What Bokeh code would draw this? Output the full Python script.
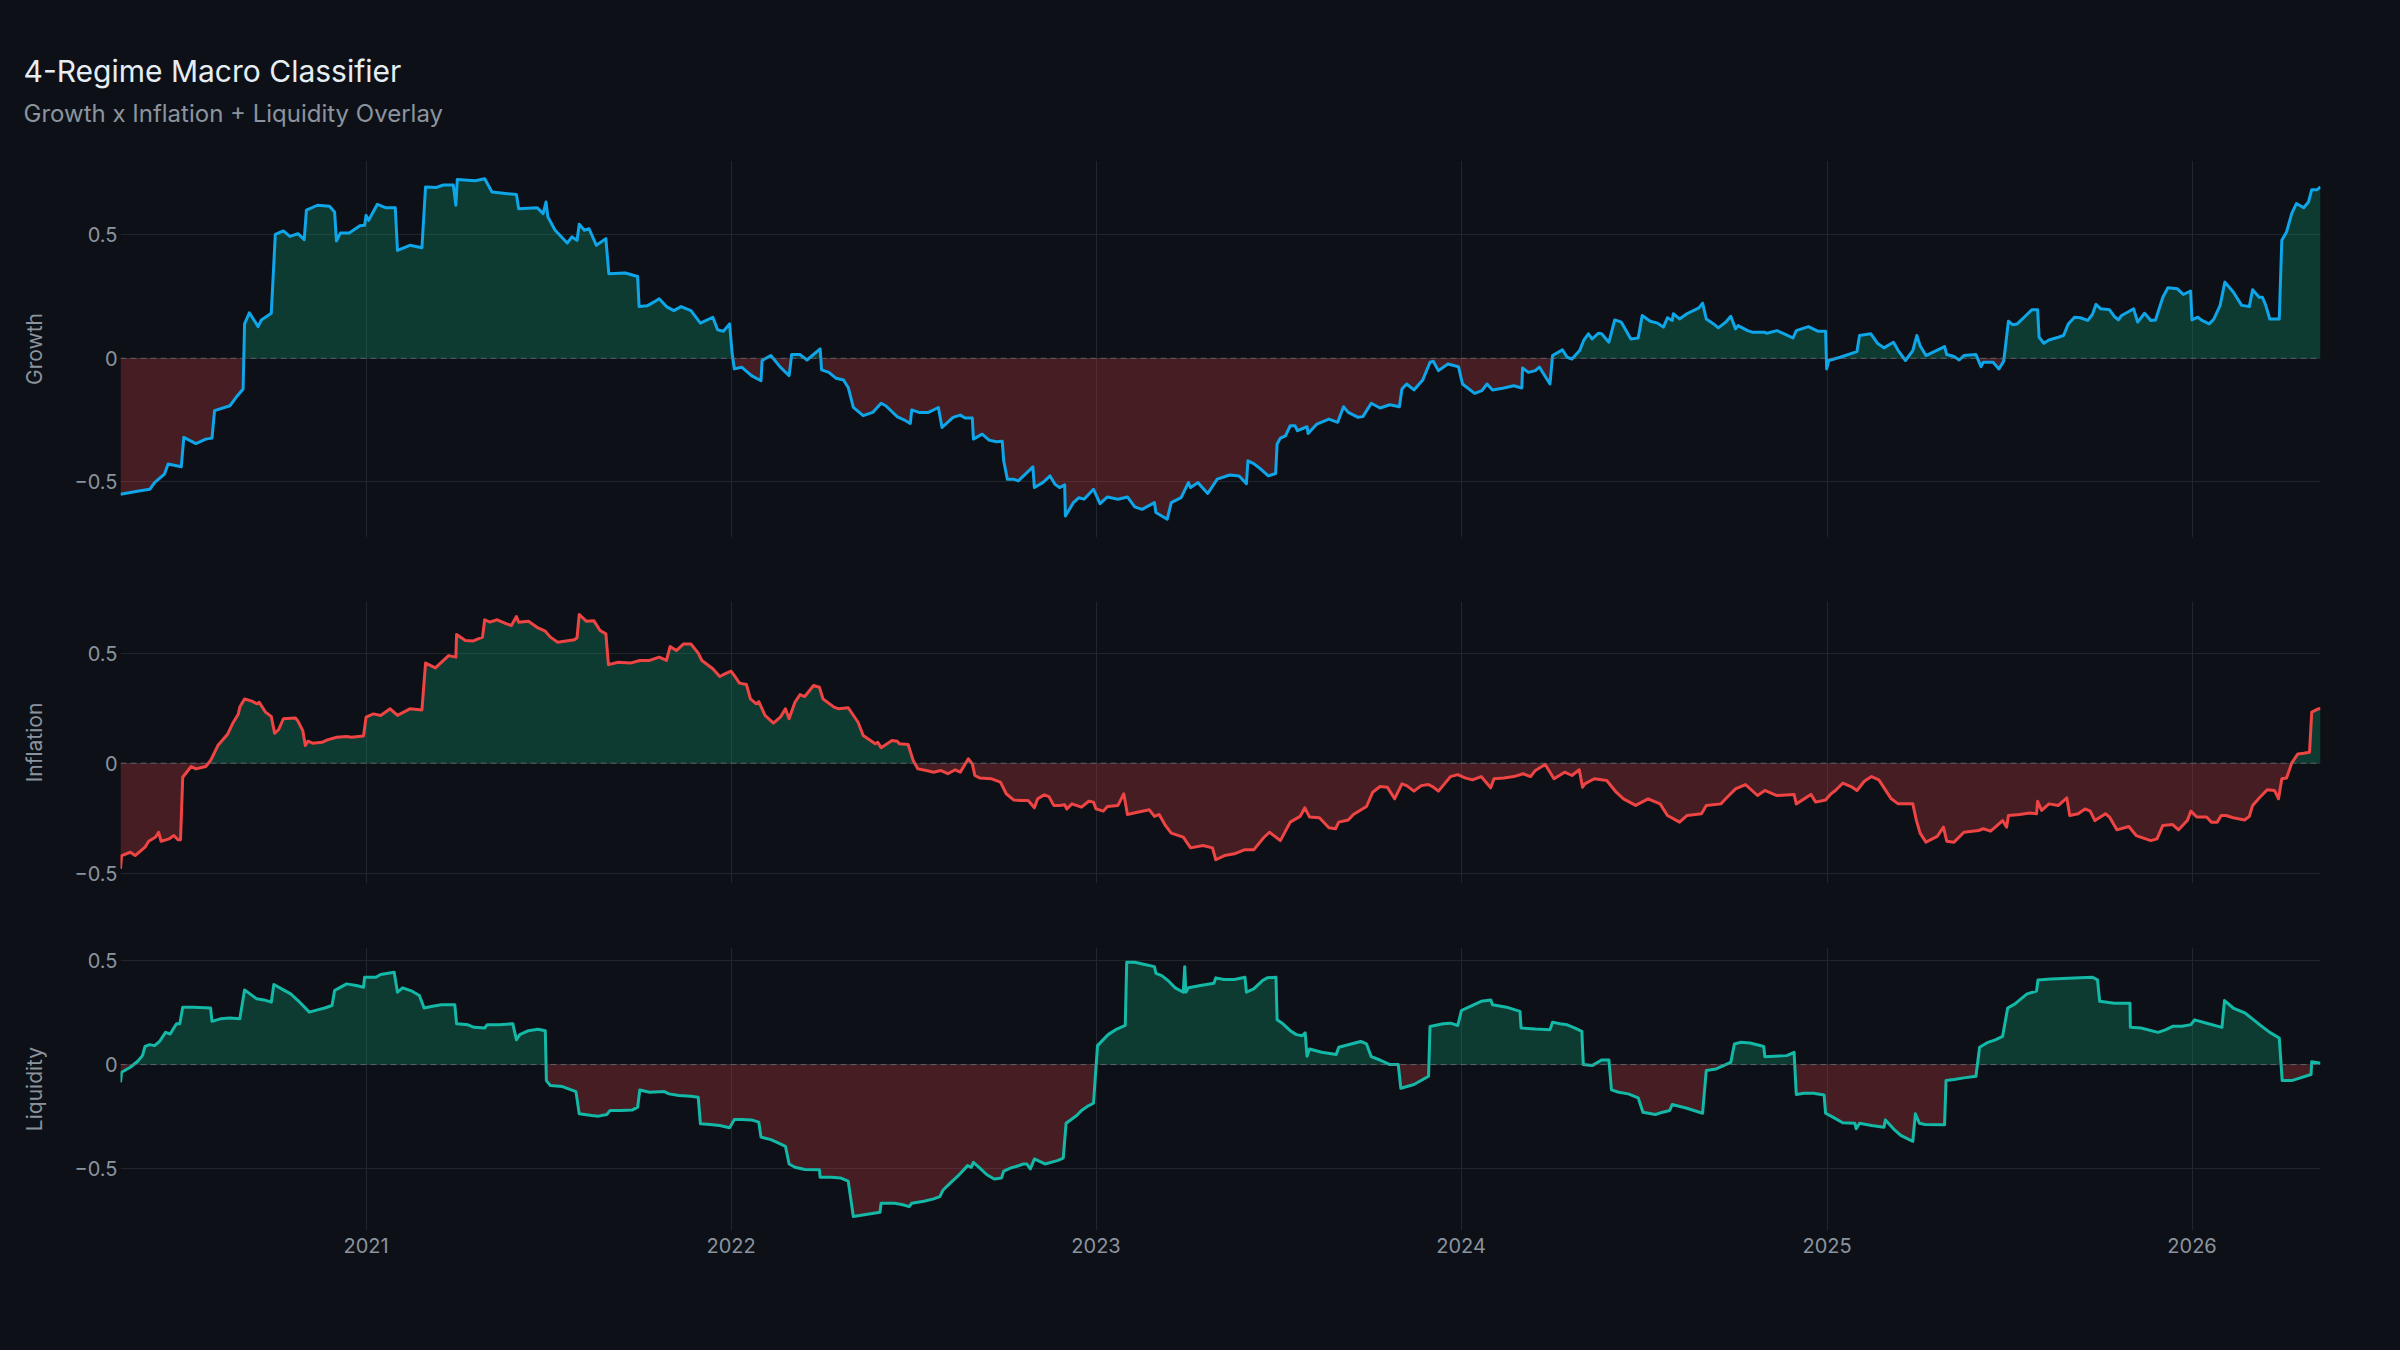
from datetime import datetime

import numpy as np
from bokeh.core.properties import value
from bokeh.embed import file_html
from bokeh.layouts import column
from bokeh.models import DatetimeTickFormatter, FixedTicker, Range1d, Span
from bokeh.plotting import figure
from bokeh.resources import INLINE

TITLE = "4-Regime Macro Classifier"
SUBTITLE = "Growth x Inflation + Liquidity Overlay"
TICK_YEARS = [2021, 2022, 2023, 2024, 2025, 2026]
Y_TICKS = [-0.5, 0.0, 0.5]
Y_LABELS = {-0.5: "\u22120.5", 0.0: "0", 0.5: "0.5"}

# dates as decimal years
growth_t = [
    2020.329, 2020.383, 2020.409, 2020.422, 2020.449, 2020.459, 2020.495, 2020.502, 2020.535, 2020.562,
    2020.579, 2020.586, 2020.628, 2020.645, 2020.664, 2020.668, 2020.681, 2020.705, 2020.714, 2020.741,
    2020.752, 2020.774, 2020.792, 2020.814, 2020.831, 2020.837, 2020.867, 2020.900, 2020.914, 2020.919,
    2020.930, 2020.954, 2020.983, 2020.996, 2021.000, 2021.007, 2021.031, 2021.053, 2021.080, 2021.086,
    2021.120, 2021.153, 2021.163, 2021.193, 2021.212, 2021.239, 2021.246, 2021.250, 2021.299, 2021.325,
    2021.345, 2021.412, 2021.418, 2021.469, 2021.485, 2021.493, 2021.498, 2021.518, 2021.551, 2021.564,
    2021.578, 2021.584, 2021.598, 2021.611, 2021.631, 2021.657, 2021.665, 2021.710, 2021.744, 2021.748,
    2021.770, 2021.788, 2021.803, 2021.823, 2021.843, 2021.863, 2021.890, 2021.916, 2021.950, 2021.963,
    2021.979, 2021.996, 2022.003, 2022.009, 2022.029, 2022.056, 2022.082, 2022.085, 2022.109, 2022.135,
    2022.159, 2022.166, 2022.189, 2022.208, 2022.244, 2022.248, 2022.268, 2022.288, 2022.308, 2022.321,
    2022.335, 2022.362, 2022.388, 2022.411, 2022.424, 2022.455, 2022.475, 2022.491, 2022.495, 2022.515,
    2022.541, 2022.568, 2022.578, 2022.608, 2022.628, 2022.641, 2022.661, 2022.664, 2022.688, 2022.707,
    2022.727, 2022.743, 2022.747, 2022.757, 2022.774, 2022.787, 2022.827, 2022.831, 2022.854, 2022.874,
    2022.887, 2022.900, 2022.914, 2022.916, 2022.938, 2022.953, 2022.967, 2022.993, 2023.011, 2023.031,
    2023.060, 2023.086, 2023.106, 2023.126, 2023.160, 2023.164, 2023.195, 2023.206, 2023.233, 2023.253,
    2023.259, 2023.279, 2023.306, 2023.332, 2023.366, 2023.392, 2023.412, 2023.416, 2023.432, 2023.452,
    2023.472, 2023.492, 2023.496, 2023.505, 2023.519, 2023.532, 2023.545, 2023.552, 2023.578, 2023.581,
    2023.605, 2023.638, 2023.662, 2023.678, 2023.691, 2023.718, 2023.731, 2023.754, 2023.778, 2023.805,
    2023.831, 2023.838, 2023.851, 2023.871, 2023.895, 2023.915, 2023.924, 2023.938, 2023.964, 2023.993,
    2024.004, 2024.037, 2024.057, 2024.071, 2024.086, 2024.117, 2024.144, 2024.166, 2024.168, 2024.184,
    2024.203, 2024.214, 2024.243, 2024.250, 2024.277, 2024.290, 2024.303,
    2024.324, 2024.335, 2024.348, 2024.358, 2024.375, 2024.384, 2024.404, 2024.420, 2024.438, 2024.464,
    2024.484, 2024.495, 2024.517, 2024.537, 2024.553, 2024.564, 2024.577, 2024.580, 2024.597, 2024.617,
    2024.650, 2024.660, 2024.670, 2024.690, 2024.703, 2024.723, 2024.737, 2024.750, 2024.757, 2024.783,
    2024.797, 2024.830, 2024.836, 2024.863, 2024.883, 2024.907, 2024.916, 2024.949, 2024.976, 2024.996,
    2024.999, 2025.005, 2025.036, 2025.082, 2025.089, 2025.120, 2025.138, 2025.156, 2025.182, 2025.195,
    2025.215, 2025.235, 2025.246, 2025.255, 2025.271, 2025.322, 2025.328, 2025.348, 2025.362, 2025.375,
    2025.408, 2025.422, 2025.428, 2025.455, 2025.471, 2025.484, 2025.497, 2025.508, 2025.521, 2025.545,
    2025.561, 2025.577, 2025.581, 2025.594, 2025.608, 2025.634, 2025.648, 2025.661, 2025.678, 2025.694,
    2025.714, 2025.727, 2025.737, 2025.750, 2025.774, 2025.787, 2025.798, 2025.807, 2025.827, 2025.840,
    2025.851, 2025.870, 2025.887, 2025.900, 2025.920, 2025.934, 2025.960, 2025.976, 2025.996, 2026.000,
    2026.016, 2026.027, 2026.047, 2026.060, 2026.077, 2026.090, 2026.113, 2026.136, 2026.157, 2026.166,
    2026.184, 2026.193, 2026.202, 2026.213, 2026.226, 2026.239, 2026.246, 2026.259, 2026.273, 2026.286,
    2026.306, 2026.319, 2026.328, 2026.343, 2026.352,
]
growth_v = [
    -0.550, -0.536, -0.530, -0.503, -0.469, -0.428, -0.439, -0.320, -0.345, -0.327,
    -0.323, -0.212, -0.192, -0.158, -0.124, 0.139, 0.184, 0.128, 0.155, 0.182,
    0.501, 0.515, 0.493, 0.504, 0.480, 0.599, 0.619, 0.615, 0.592, 0.474,
    0.507, 0.507, 0.536, 0.538, 0.578, 0.558, 0.623, 0.609, 0.609, 0.436,
    0.457, 0.447, 0.693, 0.691, 0.701, 0.701, 0.619, 0.723, 0.718, 0.726,
    0.673, 0.662, 0.605, 0.609, 0.585, 0.632, 0.572, 0.518, 0.466, 0.491,
    0.477, 0.542, 0.518, 0.524, 0.457, 0.484, 0.342, 0.345, 0.331, 0.209,
    0.212, 0.227, 0.241, 0.209, 0.193, 0.209, 0.193, 0.142, 0.166, 0.115,
    0.109, 0.139, 0.018, -0.043, -0.036, -0.070, -0.091, -0.009, 0.011, -0.036,
    -0.070, 0.015, 0.015, -0.007, 0.038, -0.047, -0.057, -0.081, -0.088, -0.118,
    -0.199, -0.232, -0.219, -0.182, -0.192, -0.236, -0.250, -0.264, -0.209, -0.219,
    -0.219, -0.199, -0.280, -0.239, -0.230, -0.242, -0.242, -0.327, -0.307, -0.331,
    -0.338, -0.336, -0.415, -0.489, -0.489, -0.496, -0.439, -0.523, -0.503, -0.476,
    -0.509, -0.523, -0.512, -0.638, -0.584, -0.564, -0.570, -0.530, -0.588, -0.561,
    -0.570, -0.561, -0.601, -0.611, -0.584, -0.624, -0.651, -0.584, -0.564, -0.503,
    -0.523, -0.503, -0.547, -0.489, -0.472, -0.476, -0.507, -0.415, -0.426, -0.449,
    -0.476, -0.466, -0.347, -0.323, -0.314, -0.273, -0.273, -0.293, -0.277, -0.304,
    -0.266, -0.246, -0.259, -0.196, -0.219, -0.239, -0.236, -0.182, -0.201, -0.188,
    -0.196, -0.124, -0.104, -0.128, -0.088, -0.016, -0.012, -0.050, -0.023, -0.034,
    -0.104, -0.142, -0.131, -0.104, -0.128, -0.120, -0.111, -0.120, -0.039, -0.057,
    -0.050, -0.036, -0.104, 0.011, 0.034, 0.004, -0.003,
    0.031, 0.072, 0.099, 0.078, 0.101, 0.099, 0.065, 0.155, 0.146, 0.078,
    0.082, 0.173, 0.150, 0.142, 0.126, 0.164, 0.153, 0.180, 0.159, 0.180,
    0.204, 0.223, 0.159, 0.139, 0.123, 0.146, 0.170, 0.119, 0.132, 0.112,
    0.105, 0.105, 0.101, 0.112, 0.099, 0.082, 0.112, 0.128, 0.109, 0.109,
    -0.043, -0.009, 0.004, 0.027, 0.092, 0.099, 0.061, 0.042, 0.065, 0.031,
    -0.009, 0.031, 0.092, 0.051, 0.011, 0.047, 0.015, 0.007, -0.007, 0.011,
    0.015, -0.034, -0.016, -0.016, -0.043, -0.012, 0.150, 0.136, 0.139, 0.173,
    0.196, 0.196, 0.085, 0.061, 0.074, 0.085, 0.092, 0.139, 0.166, 0.164,
    0.153, 0.177, 0.218, 0.200, 0.196, 0.169, 0.155, 0.173, 0.189, 0.200,
    0.146, 0.182, 0.153, 0.155, 0.247, 0.285, 0.281, 0.258, 0.272, 0.155,
    0.166, 0.153, 0.139, 0.159, 0.214, 0.308, 0.268, 0.214, 0.209, 0.277,
    0.247, 0.247, 0.214, 0.159, 0.159, 0.159, 0.477, 0.511, 0.585, 0.626,
    0.609, 0.632, 0.682, 0.682, 0.693,
]

inflation_t = [
    2020.329, 2020.332, 2020.356, 2020.369, 2020.396, 2020.406, 2020.425, 2020.433, 2020.440, 2020.462,
    2020.475, 2020.486, 2020.493, 2020.499, 2020.522, 2020.535, 2020.562, 2020.575, 2020.582, 2020.595,
    2020.622, 2020.635, 2020.651, 2020.655, 2020.668, 2020.688, 2020.701, 2020.708, 2020.725, 2020.734,
    2020.741, 2020.750, 2020.761, 2020.774, 2020.807, 2020.814, 2020.827, 2020.834, 2020.841, 2020.854,
    2020.880, 2020.894, 2020.920, 2020.947, 2020.960, 2020.993, 2021.000, 2021.020, 2021.040, 2021.066,
    2021.086, 2021.120, 2021.153, 2021.163, 2021.190, 2021.226, 2021.246, 2021.248, 2021.272, 2021.292,
    2021.319, 2021.325, 2021.339, 2021.359, 2021.385, 2021.398, 2021.412, 2021.418, 2021.445, 2021.471,
    2021.491, 2021.505, 2021.525, 2021.571, 2021.578, 2021.584, 2021.604, 2021.624, 2021.641, 2021.657,
    2021.664, 2021.691, 2021.724, 2021.750, 2021.777, 2021.803, 2021.823, 2021.833, 2021.850, 2021.870,
    2021.890, 2021.910, 2021.920, 2021.950, 2021.969, 2021.983, 2022.000, 2022.009, 2022.023, 2022.042,
    2022.053, 2022.069, 2022.076, 2022.093, 2022.116, 2022.135, 2022.149, 2022.159, 2022.175, 2022.189,
    2022.202, 2022.226, 2022.242, 2022.252, 2022.282, 2022.295, 2022.321,
    2022.348, 2022.362, 2022.382, 2022.395, 2022.402, 2022.411, 2022.441, 2022.455, 2022.461, 2022.485,
    2022.499, 2022.512, 2022.535, 2022.555, 2022.574, 2022.594, 2022.614, 2022.628, 2022.650, 2022.661,
    2022.668, 2022.681, 2022.714, 2022.738, 2022.754, 2022.774, 2022.794, 2022.814, 2022.831, 2022.840,
    2022.858, 2022.871, 2022.884, 2022.900, 2022.914, 2022.920, 2022.934, 2022.960, 2022.980, 2022.993,
    2023.000, 2023.020, 2023.031, 2023.060, 2023.076, 2023.086, 2023.113, 2023.146, 2023.160, 2023.173,
    2023.190, 2023.206, 2023.239, 2023.259, 2023.293, 2023.319, 2023.328, 2023.352, 2023.379, 2023.406,
    2023.432, 2023.459, 2023.475, 2023.505, 2023.532, 2023.559, 2023.572, 2023.585, 2023.612, 2023.638,
    2023.656, 2023.665, 2023.691, 2023.705, 2023.741, 2023.758, 2023.778, 2023.798, 2023.818, 2023.838,
    2023.851, 2023.871, 2023.891, 2023.911, 2023.924, 2023.938, 2023.971, 2023.991, 2024.011, 2024.031,
    2024.055, 2024.081, 2024.090, 2024.117, 2024.144, 2024.170, 2024.190, 2024.203, 2024.230, 2024.254,
    2024.283, 2024.303, 2024.323, 2024.332,
    2024.338, 2024.364, 2024.398, 2024.424, 2024.444, 2024.477, 2024.511, 2024.544, 2024.564, 2024.597,
    2024.617, 2024.657, 2024.670, 2024.710, 2024.723, 2024.750, 2024.777, 2024.810, 2024.830, 2024.863,
    2024.910, 2024.916, 2024.956, 2024.969, 2024.996, 2025.009, 2025.023, 2025.043, 2025.069, 2025.082,
    2025.102, 2025.122, 2025.142, 2025.176, 2025.195, 2025.235, 2025.245, 2025.255, 2025.271, 2025.302,
    2025.319, 2025.328, 2025.348, 2025.375, 2025.415, 2025.428, 2025.448, 2025.461, 2025.481, 2025.492,
    2025.497, 2025.528, 2025.555, 2025.574, 2025.577, 2025.588, 2025.608, 2025.634, 2025.657, 2025.665,
    2025.688, 2025.707, 2025.721, 2025.734, 2025.763, 2025.774, 2025.794, 2025.827, 2025.847, 2025.887,
    2025.904, 2025.920, 2025.947, 2025.963, 2025.987, 2025.997, 2026.013, 2026.040, 2026.053, 2026.069,
    2026.080, 2026.093, 2026.113, 2026.144, 2026.157, 2026.166, 2026.186, 2026.206, 2026.226, 2026.237,
    2026.246, 2026.259, 2026.273, 2026.290, 2026.306, 2026.322, 2026.328, 2026.346, 2026.352,
]
inflation_v = [
    -0.480, -0.420, -0.405, -0.420, -0.382, -0.355, -0.336, -0.314, -0.355, -0.344,
    -0.329, -0.348, -0.348, -0.064, -0.015, -0.026, -0.015, 0.012, 0.035, 0.080,
    0.133, 0.179, 0.224, 0.255, 0.292, 0.282, 0.270, 0.277, 0.232, 0.221,
    0.212, 0.136, 0.152, 0.202, 0.205, 0.191, 0.148, 0.080, 0.100, 0.091,
    0.095, 0.106, 0.118, 0.121, 0.118, 0.124, 0.209, 0.224, 0.217, 0.247,
    0.217, 0.247, 0.242, 0.455, 0.433, 0.489, 0.482, 0.585, 0.558, 0.555,
    0.573, 0.652, 0.641, 0.652, 0.633, 0.626, 0.667, 0.641, 0.645, 0.615,
    0.600, 0.573, 0.550, 0.561, 0.570, 0.676, 0.645, 0.648, 0.603, 0.588,
    0.448, 0.459, 0.455, 0.467, 0.467, 0.482, 0.467, 0.530, 0.512, 0.542,
    0.542, 0.500, 0.467, 0.429, 0.394, 0.406, 0.418, 0.398, 0.364, 0.358,
    0.292, 0.270, 0.280, 0.217, 0.182, 0.209, 0.247, 0.202, 0.277, 0.312,
    0.303, 0.353, 0.345, 0.292, 0.255, 0.247, 0.252,
    0.186, 0.126, 0.103, 0.088, 0.095, 0.070, 0.103, 0.100, 0.088, 0.085,
    0.012, -0.026, -0.033, -0.041, -0.033, -0.048, -0.030, -0.041, 0.020, -0.003,
    -0.056, -0.067, -0.071, -0.086, -0.139, -0.167, -0.170, -0.170, -0.203, -0.162,
    -0.144, -0.152, -0.192, -0.192, -0.189, -0.208, -0.185, -0.200, -0.173, -0.177,
    -0.208, -0.218, -0.197, -0.192, -0.139, -0.233, -0.223, -0.212, -0.242, -0.233,
    -0.283, -0.318, -0.336, -0.385, -0.374, -0.385, -0.439, -0.420, -0.412, -0.394,
    -0.394, -0.339, -0.314, -0.352, -0.268, -0.242, -0.203, -0.245, -0.248, -0.294,
    -0.298, -0.268, -0.258, -0.233, -0.197, -0.132, -0.106, -0.109, -0.162, -0.094,
    -0.102, -0.127, -0.102, -0.097, -0.109, -0.127, -0.061, -0.052, -0.067, -0.076,
    -0.061, -0.112, -0.071, -0.067, -0.061, -0.048, -0.061, -0.033, -0.006, -0.071,
    -0.041, -0.056, -0.030, -0.109,
    -0.094, -0.071, -0.079, -0.132, -0.162, -0.192, -0.162, -0.185, -0.238, -0.268,
    -0.238, -0.230, -0.192, -0.185, -0.162, -0.117, -0.097, -0.147, -0.124, -0.147,
    -0.142, -0.185, -0.142, -0.177, -0.167, -0.142, -0.124, -0.091, -0.109, -0.124,
    -0.082, -0.061, -0.076, -0.162, -0.185, -0.185, -0.261, -0.318, -0.359, -0.333,
    -0.291, -0.355, -0.359, -0.314, -0.306, -0.298, -0.309, -0.291, -0.261, -0.291,
    -0.238, -0.233, -0.227, -0.230, -0.173, -0.215, -0.185, -0.192, -0.158, -0.238,
    -0.230, -0.208, -0.218, -0.261, -0.230, -0.245, -0.303, -0.288, -0.329, -0.352,
    -0.344, -0.283, -0.279, -0.303, -0.261, -0.218, -0.245, -0.245, -0.268, -0.268,
    -0.238, -0.238, -0.248, -0.258, -0.242, -0.192, -0.155, -0.121, -0.124, -0.162,
    -0.071, -0.067, 0.000, 0.042, 0.045, 0.050, 0.232, 0.247, 0.247,
]

liquidity_t = [
    2020.329, 2020.332, 2020.356, 2020.376, 2020.389, 2020.396, 2020.409, 2020.422, 2020.436, 2020.452,
    2020.465, 2020.473, 2020.482, 2020.491, 2020.499, 2020.529, 2020.575, 2020.579, 2020.602, 2020.628,
    2020.655, 2020.668, 2020.701, 2020.721, 2020.741, 2020.748, 2020.774, 2020.794, 2020.814, 2020.845,
    2020.867, 2020.887, 2020.907, 2020.914, 2020.927, 2020.947, 2020.973, 2020.993, 2020.996, 2021.027,
    2021.040, 2021.077, 2021.086, 2021.100, 2021.126, 2021.146, 2021.159, 2021.179, 2021.206, 2021.243,
    2021.248, 2021.279, 2021.296, 2021.325, 2021.332, 2021.365, 2021.402, 2021.412, 2021.421, 2021.445,
    2021.471, 2021.491, 2021.494, 2021.505, 2021.538, 2021.575, 2021.584, 2021.618, 2021.637, 2021.660,
    2021.668, 2021.697, 2021.730, 2021.744, 2021.750, 2021.777, 2021.817, 2021.830, 2021.857, 2021.890,
    2021.910, 2021.916, 2021.943, 2021.969, 2021.996, 2022.009, 2022.029, 2022.056, 2022.076, 2022.082,
    2022.109, 2022.129, 2022.149, 2022.159, 2022.175, 2022.202, 2022.242, 2022.244, 2022.275, 2022.301,
    2022.321, 2022.335,
    2022.408, 2022.411, 2022.448, 2022.468, 2022.488, 2022.495, 2022.528, 2022.555, 2022.572, 2022.581,
    2022.601, 2022.621, 2022.648, 2022.658, 2022.664, 2022.681, 2022.701, 2022.721, 2022.741, 2022.747,
    2022.767, 2022.781, 2022.801, 2022.810, 2022.820, 2022.831, 2022.860, 2022.894, 2022.910, 2022.918,
    2022.947, 2022.960, 2022.980, 2022.993, 2023.004, 2023.033, 2023.057, 2023.080, 2023.084, 2023.106,
    2023.133, 2023.160, 2023.164, 2023.180, 2023.199, 2023.217, 2023.239, 2023.243, 2023.246, 2023.253,
    2023.286, 2023.323, 2023.328, 2023.350, 2023.379, 2023.408, 2023.412, 2023.432, 2023.456, 2023.469,
    2023.493, 2023.496, 2023.512, 2023.532, 2023.549, 2023.565, 2023.573, 2023.578, 2023.585, 2023.618,
    2023.658, 2023.665, 2023.691, 2023.725, 2023.741, 2023.754, 2023.778, 2023.805, 2023.828, 2023.835,
    2023.871, 2023.911, 2023.915, 2023.951, 2023.971, 2023.991, 2024.001, 2024.024, 2024.055, 2024.081,
    2024.086, 2024.124, 2024.161, 2024.164, 2024.203, 2024.243, 2024.250, 2024.270, 2024.290, 2024.310,
    2024.330, 2024.334,
    2024.358, 2024.384, 2024.404, 2024.411, 2024.431, 2024.457, 2024.484, 2024.497, 2024.531, 2024.551,
    2024.570, 2024.577, 2024.617, 2024.660, 2024.670, 2024.697, 2024.717, 2024.737, 2024.747, 2024.763,
    2024.790, 2024.827, 2024.830, 2024.856, 2024.890, 2024.910, 2024.916, 2024.936, 2024.963, 2024.992,
    2024.996, 2025.016, 2025.043, 2025.076, 2025.080, 2025.089, 2025.122, 2025.156, 2025.160, 2025.182,
    2025.202, 2025.235, 2025.242, 2025.253, 2025.269, 2025.322, 2025.326, 2025.348, 2025.375, 2025.408,
    2025.418, 2025.441, 2025.461, 2025.481, 2025.495, 2025.515, 2025.528, 2025.548, 2025.574, 2025.578,
    2025.614, 2025.661, 2025.694, 2025.727, 2025.741, 2025.747, 2025.787, 2025.830, 2025.831, 2025.860,
    2025.907, 2025.927, 2025.947, 2025.973, 2025.997, 2026.007, 2026.040, 2026.082, 2026.089, 2026.113,
    2026.146, 2026.180, 2026.213, 2026.239, 2026.247, 2026.273, 2026.326, 2026.328, 2026.352,
]
liquidity_v = [
    -0.085, -0.037, -0.013, 0.016, 0.043, 0.087, 0.096, 0.091, 0.112, 0.155,
    0.147, 0.171, 0.196, 0.196, 0.276, 0.276, 0.272, 0.208, 0.220, 0.224,
    0.220, 0.359, 0.316, 0.311, 0.300, 0.385, 0.359, 0.340, 0.308, 0.252,
    0.263, 0.272, 0.284, 0.356, 0.369, 0.388, 0.380, 0.372, 0.420, 0.420,
    0.433, 0.444, 0.348, 0.369, 0.353, 0.332, 0.272, 0.279, 0.288, 0.288,
    0.196, 0.191, 0.179, 0.176, 0.192, 0.192, 0.196, 0.119, 0.144, 0.163,
    0.170, 0.163, -0.077, -0.101, -0.106, -0.130, -0.237, -0.245, -0.248, -0.240,
    -0.221, -0.221, -0.218, -0.205, -0.122, -0.133, -0.130, -0.141, -0.149, -0.152,
    -0.157, -0.285, -0.288, -0.293, -0.304, -0.264, -0.264, -0.266, -0.277, -0.349,
    -0.361, -0.377, -0.393, -0.478, -0.494, -0.505, -0.506, -0.542, -0.542, -0.546,
    -0.561, -0.731,
    -0.710, -0.667, -0.667, -0.673, -0.683, -0.667, -0.657, -0.646, -0.635, -0.603,
    -0.569, -0.537, -0.486, -0.494, -0.470, -0.497, -0.530, -0.550, -0.545, -0.513,
    -0.497, -0.490, -0.478, -0.478, -0.502, -0.454, -0.478, -0.462, -0.450, -0.282,
    -0.245, -0.221, -0.197, -0.186, 0.091, 0.144, 0.171, 0.188, 0.492, 0.492,
    0.481, 0.471, 0.439, 0.428, 0.401, 0.369, 0.348, 0.471, 0.348, 0.369,
    0.380, 0.391, 0.417, 0.409, 0.409, 0.420, 0.348, 0.364, 0.404, 0.417,
    0.420, 0.216, 0.196, 0.163, 0.144, 0.139, 0.152, 0.040, 0.075, 0.059,
    0.048, 0.083, 0.095, 0.111, 0.099, 0.038, 0.022, 0.000, 0.000, -0.114,
    -0.096, -0.056, 0.183, 0.196, 0.199, 0.188, 0.260, 0.279, 0.304, 0.311,
    0.288, 0.276, 0.256, 0.176, 0.171, 0.168, 0.204, 0.196, 0.191, 0.176,
    0.160, 0.000,
    -0.005, 0.022, 0.022, -0.122, -0.133, -0.141, -0.160, -0.229, -0.240, -0.229,
    -0.221, -0.192, -0.210, -0.234, -0.029, -0.021, -0.005, 0.011, 0.099, 0.107,
    0.104, 0.087, 0.038, 0.040, 0.043, 0.059, -0.144, -0.138, -0.138, -0.146,
    -0.234, -0.253, -0.280, -0.282, -0.309, -0.282, -0.293, -0.301, -0.266, -0.309,
    -0.341, -0.369, -0.237, -0.282, -0.288, -0.290, -0.077, -0.072, -0.064, -0.056,
    0.083, 0.107, 0.119, 0.136, 0.272, 0.292, 0.311, 0.340, 0.353, 0.407,
    0.412, 0.415, 0.417, 0.420, 0.407, 0.304, 0.295, 0.295, 0.179, 0.176,
    0.155, 0.167, 0.184, 0.184, 0.192, 0.215, 0.199, 0.179, 0.308, 0.272,
    0.247, 0.199, 0.155, 0.128, -0.077, -0.077, -0.048, 0.014, 0.006,
]

BG = "#0d1117"
GRID = "#21262d"
MUTED = "#8b949e"
FONT = "Inter"
POS = "#10b981"
NEG = "#ef4444"
WIDTH = 2400


def to_dt(years):
    out = []
    for y in years:
        yr = int(y)
        start = datetime(yr, 1, 1)
        span = datetime(yr + 1, 1, 1) - start
        out.append(start + (y - yr) * span)
    return out


def add_zero_crossings(t, v):
    # so the green/red fills switch exactly where the line crosses zero
    ts, vs = [t[0]], [v[0]]
    for i in range(1, len(t)):
        a, b = v[i - 1], v[i]
        if a * b < 0:
            ts.append(t[i - 1] + (t[i] - t[i - 1]) * a / (a - b))
            vs.append(0.0)
        ts.append(t[i])
        vs.append(v[i])
    return ts, np.array(vs)


epoch = datetime(1970, 1, 1)
year_ticks = [(datetime(y, 1, 1) - epoch).total_seconds() * 1000 for y in TICK_YEARS]
x_range = Range1d(to_dt([growth_t[0]])[0], to_dt([growth_t[-1]])[0])


def panel(name, t, v, color, y_lo, y_hi, height, top, bottom, show_x=False):
    p = figure(width=WIDTH, height=height, x_axis_type="datetime", x_range=x_range,
               y_range=Range1d(y_lo, y_hi), x_axis_location="below" if show_x else None,
               output_backend="svg", toolbar_location=None, title=None,
               background_fill_color=BG, border_fill_color=BG, outline_line_color=None,
               min_border_left=120, min_border_right=80,
               min_border_top=top, min_border_bottom=bottom)

    ft, fv = add_zero_crossings(t, v)
    fx = to_dt(ft)
    zeros = np.zeros(len(fv))
    p.varea(x=fx, y1=zeros, y2=np.maximum(fv, 0), fill_color=POS, fill_alpha=0.25)
    p.varea(x=fx, y1=zeros, y2=np.minimum(fv, 0), fill_color=NEG, fill_alpha=0.25)
    p.add_layout(Span(location=0, dimension="width", line_color="#6e7681",
                      line_alpha=0.7, line_width=1, line_dash="6 4"))
    p.line(to_dt(t), v, line_color=color, line_width=3, line_join="round")

    p.xgrid.ticker = FixedTicker(ticks=year_ticks)
    p.ygrid.ticker = FixedTicker(ticks=Y_TICKS)
    p.grid.grid_line_color = GRID
    p.grid.grid_line_width = 1

    p.yaxis.ticker = FixedTicker(ticks=Y_TICKS)
    p.yaxis.major_label_overrides = Y_LABELS
    p.yaxis.axis_label = name
    p.yaxis.axis_label_text_font = FONT
    p.yaxis.axis_label_text_font_size = "21px"
    p.yaxis.axis_label_text_font_style = "normal"
    p.yaxis.axis_label_text_color = MUTED
    p.yaxis.axis_label_standoff = 25
    p.yaxis.major_label_standoff = 3

    if show_x:
        p.xaxis.ticker = FixedTicker(ticks=year_ticks)
        p.xaxis.formatter = DatetimeTickFormatter(years="%Y", months="%Y", days="%Y")
        p.xaxis.major_label_standoff = 7

    p.axis.axis_line_color = None
    p.axis.major_tick_line_color = None
    p.axis.minor_tick_line_color = None
    p.axis.major_tick_out = 0
    p.axis.major_label_text_font = FONT
    p.axis.major_label_text_font_size = "20px"
    p.axis.major_label_text_color = MUTED
    return p


header = figure(width=WIDTH, height=150, x_range=Range1d(0, WIDTH), y_range=Range1d(150, 0),
                x_axis_type=None, y_axis_type=None, output_backend="svg",
                toolbar_location=None, background_fill_color=BG, border_fill_color=BG,
                outline_line_color=None, min_border=0)
header.frame_align = False
header.text(x=[23], y=[70], text=[TITLE], text_font=value(FONT), text_font_size="30px",
            text_color="#e6edf3", text_baseline="alphabetic")
header.text(x=[23], y=[113], text=[SUBTITLE], text_font=value(FONT), text_font_size="24px",
            text_color=MUTED, text_baseline="alphabetic")

p1 = panel("Growth", growth_t, growth_v, "#0ea5e9", -0.725, 0.80, 419, 10, 32)
p2 = panel("Inflation", inflation_t, inflation_v, "#ef4444", -0.547, 0.735, 346, 32, 32)
p3 = panel("Liquidity", liquidity_t, liquidity_v, "#14b8a6", -0.798, 0.563, 435, 32, 120, show_x=True)

p = column(header, p1, p2, p3)

html = file_html(p, INLINE)
html = html.replace("</head>", "<style>html, body { background-color: #0d1117; }</style></head>", 1)
open("out.html", "w").write(html)
